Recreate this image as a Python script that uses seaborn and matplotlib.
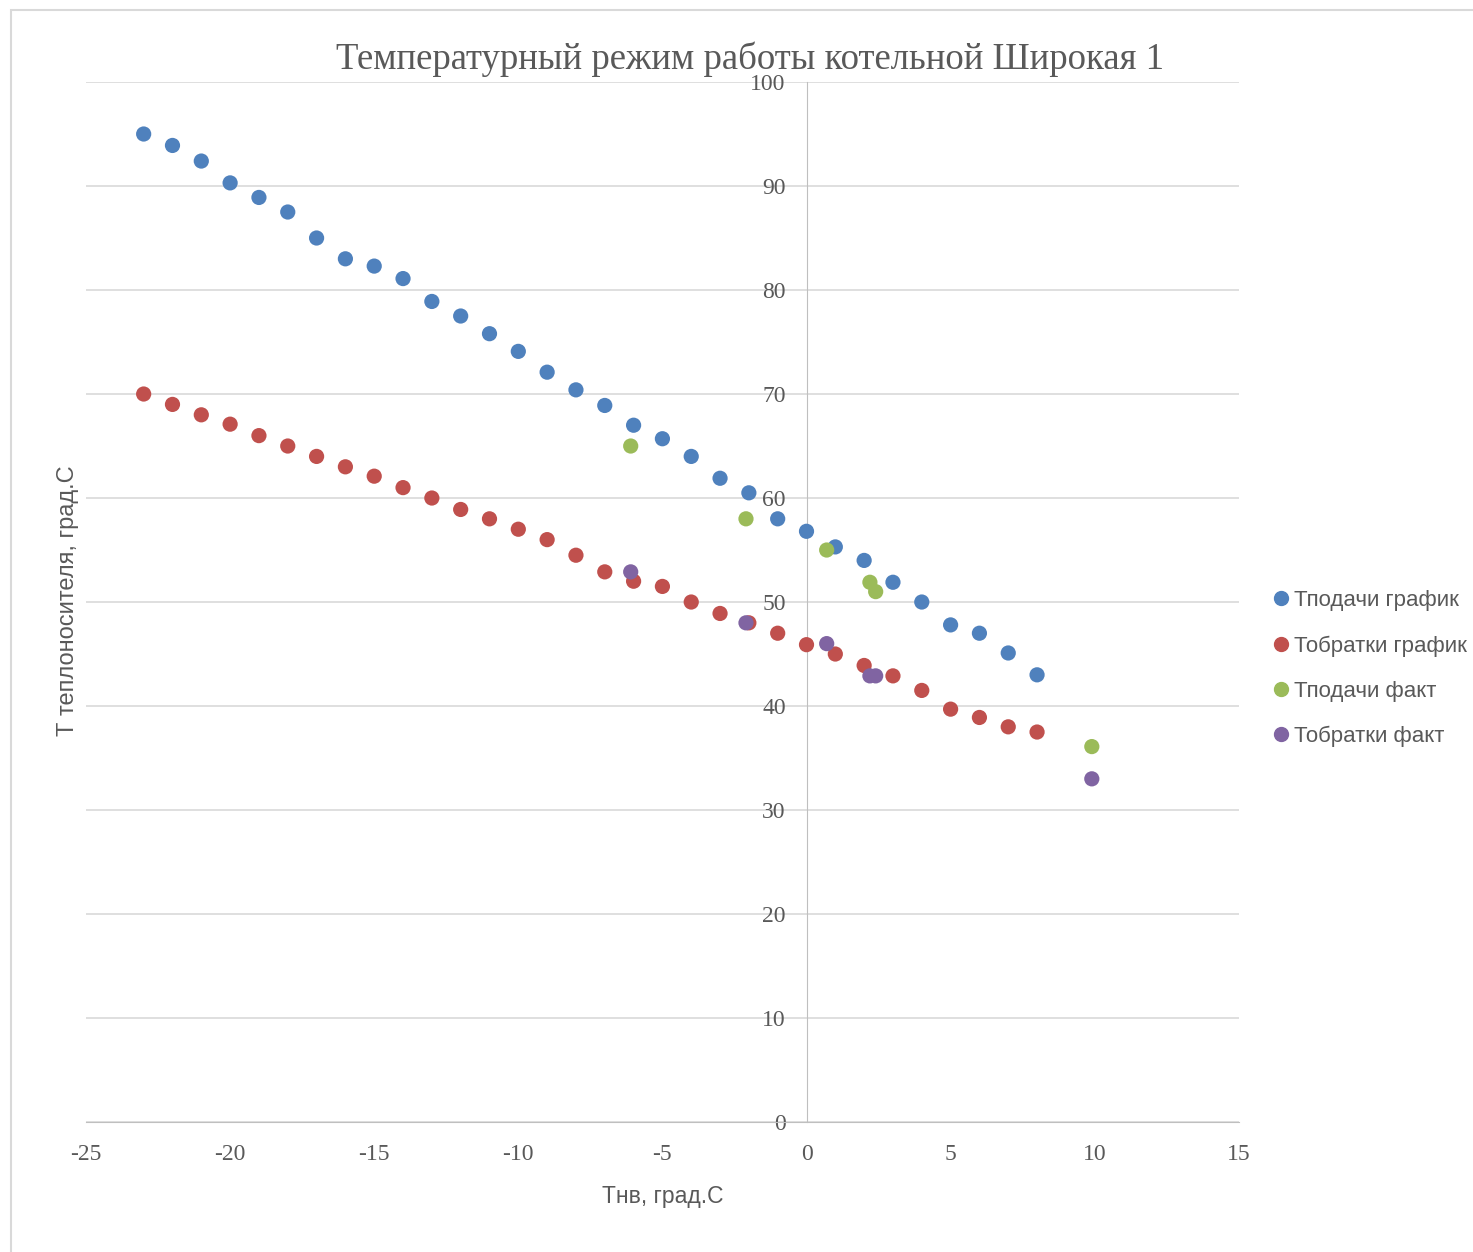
import numpy as np
import pandas as pd
import seaborn as sns
import matplotlib.pyplot as plt
from matplotlib.patches import Rectangle

# Данные графика
tnv_grafik = [-23, -22, -21, -20, -19, -18, -17, -16, -15, -14, -13, -12, -11, -10, -9, -8,
              -7, -6, -5, -4, -3, -2, -1, 0, 1, 2, 3, 4, 5, 6, 7, 8]
t_podachi_grafik = [95.0, 93.9, 92.4, 90.3, 88.9, 87.5, 85.0, 83.0, 82.3, 81.1, 78.9, 77.5,
                    75.8, 74.1, 72.1, 70.4, 68.9, 67.0, 65.7, 64.0, 61.9, 60.5, 58.0, 56.8,
                    55.3, 54.0, 51.9, 50.0, 47.8, 47.0, 45.1, 43.0]
t_obratki_grafik = [70.0, 69.0, 68.0, 67.1, 66.0, 65.0, 64.0, 63.0, 62.1, 61.0, 60.0, 58.9,
                    58.0, 57.0, 56.0, 54.5, 52.9, 52.0, 51.5, 50.0, 48.9, 48.0, 47.0, 45.9,
                    45.0, 43.9, 42.9, 41.5, 39.7, 38.9, 38.0, 37.5]

tnv_fakt = [-6.1, -2.1, 0.7, 2.2, 2.4, 9.9]
t_podachi_fakt = [65.0, 58.0, 55.0, 51.9, 51.0, 36.1]
t_obratki_fakt = [52.9, 48.0, 46.0, 42.9, 42.9, 33.0]

series = ["Тподачи график", "Тобратки график", "Тподачи факт", "Тобратки факт"]
colors = ["#4F81BD", "#C0504D", "#9BBB59", "#8064A2"]

df = pd.concat([
    pd.DataFrame({"x": tnv_grafik, "y": t_podachi_grafik, "s": series[0]}),
    pd.DataFrame({"x": tnv_grafik, "y": t_obratki_grafik, "s": series[1]}),
    pd.DataFrame({"x": tnv_fakt, "y": t_podachi_fakt, "s": series[2]}),
    pd.DataFrame({"x": tnv_fakt, "y": t_obratki_fakt, "s": series[3]}),
], ignore_index=True)

sns.set_style("white")
plt.rcParams["font.family"] = ["Liberation Sans", "DejaVu Sans"]
plt.rcParams["axes.unicode_minus"] = False
grey = "#595959"

fig = plt.figure(figsize=(14.73, 12.52), dpi=100)
ax = fig.add_axes([0.0584, 0.1038, 0.7826, 0.8307])

sns.scatterplot(data=df, x="x", y="y", hue="s", palette=colors, hue_order=series,
                s=120, edgecolor="none", ax=ax, legend=False, zorder=3)

ax.set_xlim(-25, 15)
ax.set_ylim(0, 100)
ax.set_xticks(range(-25, 16, 5))
ax.set_yticks(range(0, 101, 10))

# ось Y проходит через 0, как в Excel
ax.spines["left"].set_position(("data", 0))
ax.spines["left"].set_color("#BFBFBF")
ax.spines["bottom"].set_color("#BFBFBF")
ax.spines["top"].set_visible(False)
ax.spines["right"].set_visible(False)
ax.grid(axis="y", color="#D9D9D9", linewidth=1.2)
ax.set_axisbelow(True)
ax.tick_params(length=0)
ax.tick_params(axis="y", pad=15)
ax.tick_params(axis="x", pad=16)
for lab in ax.get_xticklabels() + ax.get_yticklabels():
    lab.set_family("Liberation Serif")
    lab.set_fontsize(17)
    lab.set_color(grey)

ax.set_xlabel("Тнв, град.С", fontsize=16.5, color=grey, labelpad=14)
ax.set_ylabel("")
fig.text(0.046, 0.52, "Т теплоносителя, град.С", rotation=90, fontsize=17, color=grey,
         ha="center", va="center")

fig.text(0.509, 0.953, "Температурный режим работы котельной Широкая 1",
         family="Liberation Serif", fontsize=26.5, color=grey, ha="center", va="center")

handles = [plt.Line2D([], [], marker="o", linestyle="", markersize=10, color=c) for c in colors]
fig.legend(handles, series, loc="center left", bbox_to_anchor=(0.847, 0.466), frameon=False,
           fontsize=16, labelcolor=grey, handletextpad=0.0, labelspacing=1.08, handlelength=1.2)

fig.patches.append(Rectangle((0.0075, -0.01), 1.1, 1.002, transform=fig.transFigure,
                             fill=False, edgecolor="#D9D9D9", linewidth=1.5))

fig.savefig("out.png", dpi=100)
